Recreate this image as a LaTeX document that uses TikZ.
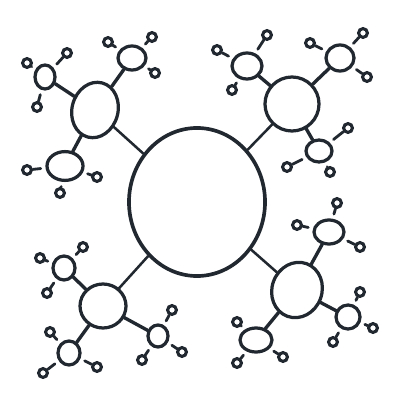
\documentclass[tikz,border=0pt]{standalone}
\usepackage{tikz}
\usetikzlibrary{shapes.geometric}
\definecolor{ink}{RGB}{34,40,48}
\tikzset{
  blob/.style={ellipse, draw=ink, line width=2.3pt, inner sep=0pt},
  bud/.style={circle, draw=ink, line width=2.2pt, inner sep=0pt, minimum size=0.22cm},
  stem/.style={draw=ink, line width=1.8pt, line cap=round},
  twig/.style={draw=ink, line width=2.4pt, line cap=round},
  sprout/.style={draw=ink, line width=2pt, line cap=round, shorten >=0.12cm},
}

\begin{document}
\begin{tikzpicture}[x=0.025cm, y=-0.025cm]
    \useasboundingbox (0,0) rectangle (400,400);

    % Hub
    \node[blob, line width=2.6pt, minimum width=3.4cm, minimum height=3.7cm] (hub) at (197,202) {};

    % Branch 1: top left
    \node[blob, minimum width=1.15cm, minimum height=1.4cm, rotate=-15] (tl) at (95,110) {};
    \node[blob, minimum width=0.5cm, minimum height=0.6cm] (tl1) at (45,77) {};
    \node[blob, minimum width=0.7cm, minimum height=0.6cm] (tl2) at (132,58) {};
    \node[blob, minimum width=0.9cm, minimum height=0.72cm] (tl3) at (65,166) {};
    \node[bud] (tl1a) at (27,63) {};
    \node[bud] (tl1b) at (67,53) {};
    \node[bud] (tl1c) at (37,107) {};
    \node[bud] (tl2a) at (108,42) {};
    \node[bud] (tl2b) at (152,37) {};
    \node[bud] (tl2c) at (155,73) {};
    \node[bud] (tl3a) at (27,170) {};
    \node[bud] (tl3b) at (97,177) {};
    \node[bud] (tl3c) at (60,193) {};
    \draw[stem] (hub) -- (tl);
    \draw[twig] (tl) -- (tl1);
    \draw[twig] (tl) -- (tl2);
    \draw[twig] (tl) -- (tl3);
    \draw[sprout] (tl1a) -- (tl1);
    \draw[sprout] (tl1b) -- (tl1);
    \draw[sprout] (tl1c) -- (tl1);
    \draw[sprout] (tl2a) -- (tl2);
    \draw[sprout] (tl2b) -- (tl2);
    \draw[sprout] (tl2c) -- (tl2);
    \draw[sprout] (tl3a) -- (tl3);
    \draw[sprout] (tl3b) -- (tl3);
    \draw[sprout] (tl3c) -- (tl3);

    % Branch 2: top right
    \node[blob, minimum width=1.35cm, minimum height=1.35cm] (tr) at (292,104) {};
    \node[blob, minimum width=0.75cm, minimum height=0.65cm] (tr1) at (247,66) {};
    \node[blob, minimum width=0.7cm, minimum height=0.65cm] (tr2) at (340,58) {};
    \node[blob, minimum width=0.65cm, minimum height=0.55cm] (tr3) at (319,151) {};
    \node[bud] (tr1a) at (217,50) {};
    \node[bud] (tr1b) at (267,35) {};
    \node[bud] (tr1c) at (232,90) {};
    \node[bud] (tr2a) at (310,43) {};
    \node[bud] (tr2b) at (363,33) {};
    \node[bud] (tr2c) at (367,77) {};
    \node[bud] (tr3a) at (287,167) {};
    \node[bud] (tr3b) at (348,128) {};
    \node[bud] (tr3c) at (330,172) {};
    \draw[stem] (hub) -- (tr);
    \draw[twig] (tr) -- (tr1);
    \draw[twig] (tr) -- (tr2);
    \draw[twig] (tr) -- (tr3);
    \draw[sprout] (tr1a) -- (tr1);
    \draw[sprout] (tr1b) -- (tr1);
    \draw[sprout] (tr1c) -- (tr1);
    \draw[sprout] (tr2a) -- (tr2);
    \draw[sprout] (tr2b) -- (tr2);
    \draw[sprout] (tr2c) -- (tr2);
    \draw[sprout] (tr3a) -- (tr3);
    \draw[sprout] (tr3b) -- (tr3);
    \draw[sprout] (tr3c) -- (tr3);

    % Branch 3: bottom left
    \node[blob, minimum width=1.15cm, minimum height=1.1cm] (bl) at (103,306) {};
    \node[blob, minimum width=0.55cm, minimum height=0.6cm] (bl1) at (64,268) {};
    \node[blob, minimum width=0.55cm, minimum height=0.6cm] (bl2) at (69,353) {};
    \node[blob, minimum width=0.5cm, minimum height=0.55cm] (bl3) at (158,336) {};
    \node[bud] (bl1a) at (40,258) {};
    \node[bud] (bl1b) at (83,247) {};
    \node[bud] (bl1c) at (47,293) {};
    \node[bud] (bl2a) at (50,332) {};
    \node[bud] (bl2b) at (97,367) {};
    \node[bud] (bl2c) at (43,373) {};
    \node[bud] (bl3a) at (172,310) {};
    \node[bud] (bl3b) at (182,352) {};
    \node[bud] (bl3c) at (142,360) {};
    \draw[stem] (hub) -- (bl);
    \draw[twig] (bl) -- (bl1);
    \draw[twig] (bl) -- (bl2);
    \draw[twig] (bl) -- (bl3);
    \draw[sprout] (bl1a) -- (bl1);
    \draw[sprout] (bl1b) -- (bl1);
    \draw[sprout] (bl1c) -- (bl1);
    \draw[sprout] (bl2a) -- (bl2);
    \draw[sprout] (bl2b) -- (bl2);
    \draw[sprout] (bl2c) -- (bl2);
    \draw[sprout] (bl3a) -- (bl3);
    \draw[sprout] (bl3b) -- (bl3);
    \draw[sprout] (bl3c) -- (bl3);

    % Branch 4: bottom right
    \node[blob, minimum width=1.25cm, minimum height=1.4cm, rotate=-20] (br) at (297,290) {};
    \node[blob, minimum width=0.75cm, minimum height=0.6cm] (br1) at (329,232) {};
    \node[blob, minimum width=0.6cm, minimum height=0.6cm] (br2) at (348,317) {};
    \node[blob, minimum width=0.8cm, minimum height=0.6cm] (br3) at (256,340) {};
    \node[bud] (br1a) at (297,225) {};
    \node[bud] (br1b) at (337,203) {};
    \node[bud] (br1c) at (360,247) {};
    \node[bud] (br2a) at (360,292) {};
    \node[bud] (br2b) at (373,328) {};
    \node[bud] (br2c) at (333,342) {};
    \node[bud] (br3a) at (237,322) {};
    \node[bud] (br3b) at (283,357) {};
    \node[bud] (br3c) at (237,363) {};
    \draw[stem] (hub) -- (br);
    \draw[twig] (br) -- (br1);
    \draw[twig] (br) -- (br2);
    \draw[twig] (br) -- (br3);
    \draw[sprout] (br1a) -- (br1);
    \draw[sprout] (br1b) -- (br1);
    \draw[sprout] (br1c) -- (br1);
    \draw[sprout] (br2a) -- (br2);
    \draw[sprout] (br2b) -- (br2);
    \draw[sprout] (br2c) -- (br2);
    \draw[sprout] (br3a) -- (br3);
    \draw[sprout] (br3b) -- (br3);
    \draw[sprout] (br3c) -- (br3);
\end{tikzpicture}
\end{document}
